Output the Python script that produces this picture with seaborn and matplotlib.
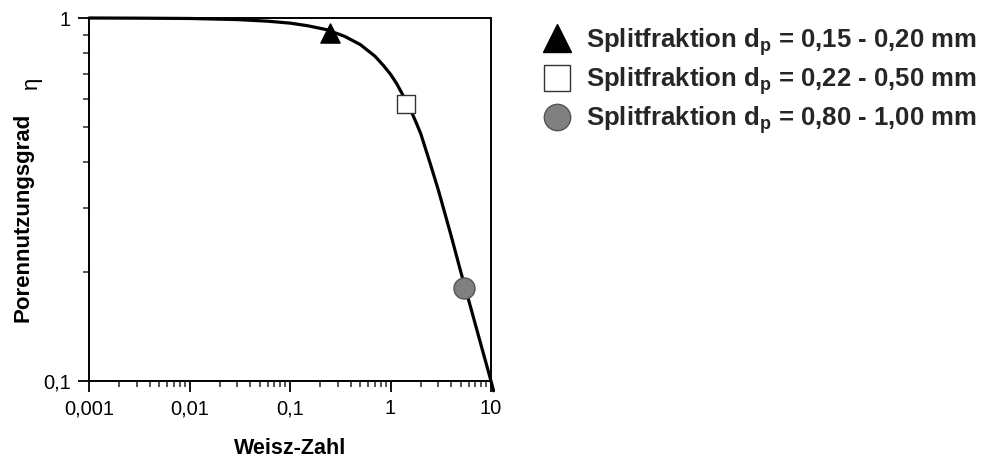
import matplotlib
matplotlib.use("Agg")
import matplotlib.pyplot as plt
import seaborn as sns
import numpy as np
import pandas as pd
from matplotlib.lines import Line2D
from matplotlib.ticker import FixedLocator, FixedFormatter, NullFormatter

# ---- data ----
curve_x = [0.001, 0.003, 0.01, 0.03, 0.06, 0.1, 0.15, 0.23, 0.35, 0.5, 0.7, 0.85, 1.0, 1.15,
           1.3, 1.45, 1.6, 1.8, 2.0, 2.5, 3.0, 4.0, 5.0, 6.5, 8.0, 10.0, 10.6]
curve_eta = [1.0, 0.999, 0.997, 0.990, 0.980, 0.968, 0.952, 0.929, 0.89, 0.845, 0.785, 0.74, 0.70, 0.66,
             0.62, 0.585, 0.555, 0.515, 0.48, 0.395, 0.335, 0.252, 0.20, 0.154, 0.125, 0.10, 0.094]

point_labels = [r"Splitfraktion d$_\mathbf{p}$ = 0,15 - 0,20 mm",
                r"Splitfraktion d$_\mathbf{p}$ = 0,22 - 0,50 mm",
                r"Splitfraktion d$_\mathbf{p}$ = 0,80 - 1,00 mm"]
point_x = [0.25, 1.42, 5.4]
point_eta = [0.91, 0.578, 0.18]

x_ticks = [0.001, 0.01, 0.1, 1, 10]
x_ticklabels = ["0,001", "0,01", "0,1", "1", "10"]
y_ticks = [0.1, 1]
y_ticklabels = ["0,1", "1"]

sns.set_theme(style="white")
plt.rcParams['font.family'] = ['Liberation Sans', 'DejaVu Sans']
plt.rcParams['mathtext.fontset'] = 'custom'
plt.rcParams['mathtext.rm'] = 'Liberation Sans'
plt.rcParams['mathtext.bf'] = 'Liberation Sans:bold'

fig = plt.figure(figsize=(9.83, 4.57), dpi=100)
ax = fig.add_axes([89/983, 1-381/457, (491-89)/983, (381-18)/457])

df = pd.DataFrame({"x": curve_x, "eta": curve_eta})
sns.lineplot(data=df, x="x", y="eta", ax=ax, color="black", lw=2.3, clip_on=False,
             sort=False, zorder=2)

styles = [dict(marker="^", color="black", edgecolor="black", s=190),
          dict(marker="s", color="white", edgecolor="#333333", s=170),
          dict(marker="o", color="#808080", edgecolor="#555555", s=230)]
for xv, yv, st in zip(point_x, point_eta, styles):
    sns.scatterplot(x=[xv], y=[yv], ax=ax, marker=st["marker"], color=st["color"],
                    edgecolor=st["edgecolor"], s=st["s"], linewidth=1.0, zorder=3)

ax.set_xscale("log")
ax.set_yscale("log")
ax.set_xlim(0.001, 10)
ax.set_ylim(0.1, 1)

ax.xaxis.set_major_locator(FixedLocator(x_ticks))
ax.xaxis.set_major_formatter(FixedFormatter(x_ticklabels))
ax.xaxis.set_minor_locator(FixedLocator([m * 10.0**e for e in range(-3, 1) for m in range(2, 10)]))
ax.xaxis.set_minor_formatter(NullFormatter())
ax.yaxis.set_major_locator(FixedLocator(y_ticks))
ax.yaxis.set_major_formatter(FixedFormatter(y_ticklabels))
ax.yaxis.set_minor_locator(FixedLocator([m * 0.1 for m in range(2, 10)]))
ax.yaxis.set_minor_formatter(NullFormatter())

ax.tick_params(axis="both", which="major", direction="out", length=8, width=1.3,
               labelsize=14.5, colors="black", pad=5, bottom=True, left=True)
ax.tick_params(axis="both", which="minor", direction="out", length=4, width=1.1,
               bottom=True, left=True)
for sp in ax.spines.values():
    sp.set_color("black")
    sp.set_linewidth(1.4)

ax.set_xlabel("Weisz-Zahl", fontsize=15.5, fontweight="bold", color="black", labelpad=14)
ax.set_ylabel("Porennutzungsgrad", fontsize=16, fontweight="bold", color="black")
ax.yaxis.set_label_coords((34-89)/402, (381-217)/363)
fig.text(31/983, 1-83/457, "η", rotation=90, fontsize=16, ha="center", va="center",
         color="black")

handles = [Line2D([], [], ls="none", marker="^", markersize=20, markerfacecolor="black",
                  markeredgecolor="black"),
           Line2D([], [], ls="none", marker="s", markersize=19, markerfacecolor="white",
                  markeredgecolor="#333333", markeredgewidth=1.0),
           Line2D([], [], ls="none", marker="o", markersize=19, markerfacecolor="#808080",
                  markeredgecolor="#555555", markeredgewidth=1.0)]
leg = fig.legend(handles, point_labels, loc="upper left",
                 bbox_to_anchor=(524/983, 1-8/457), frameon=False,
                 prop={"family": "Liberation Sans", "weight": "bold", "size": 18.5},
                 handlelength=1.2, handletextpad=0.5, labelspacing=0.28, borderpad=0.2)

fig.savefig("out.png", dpi=100)
